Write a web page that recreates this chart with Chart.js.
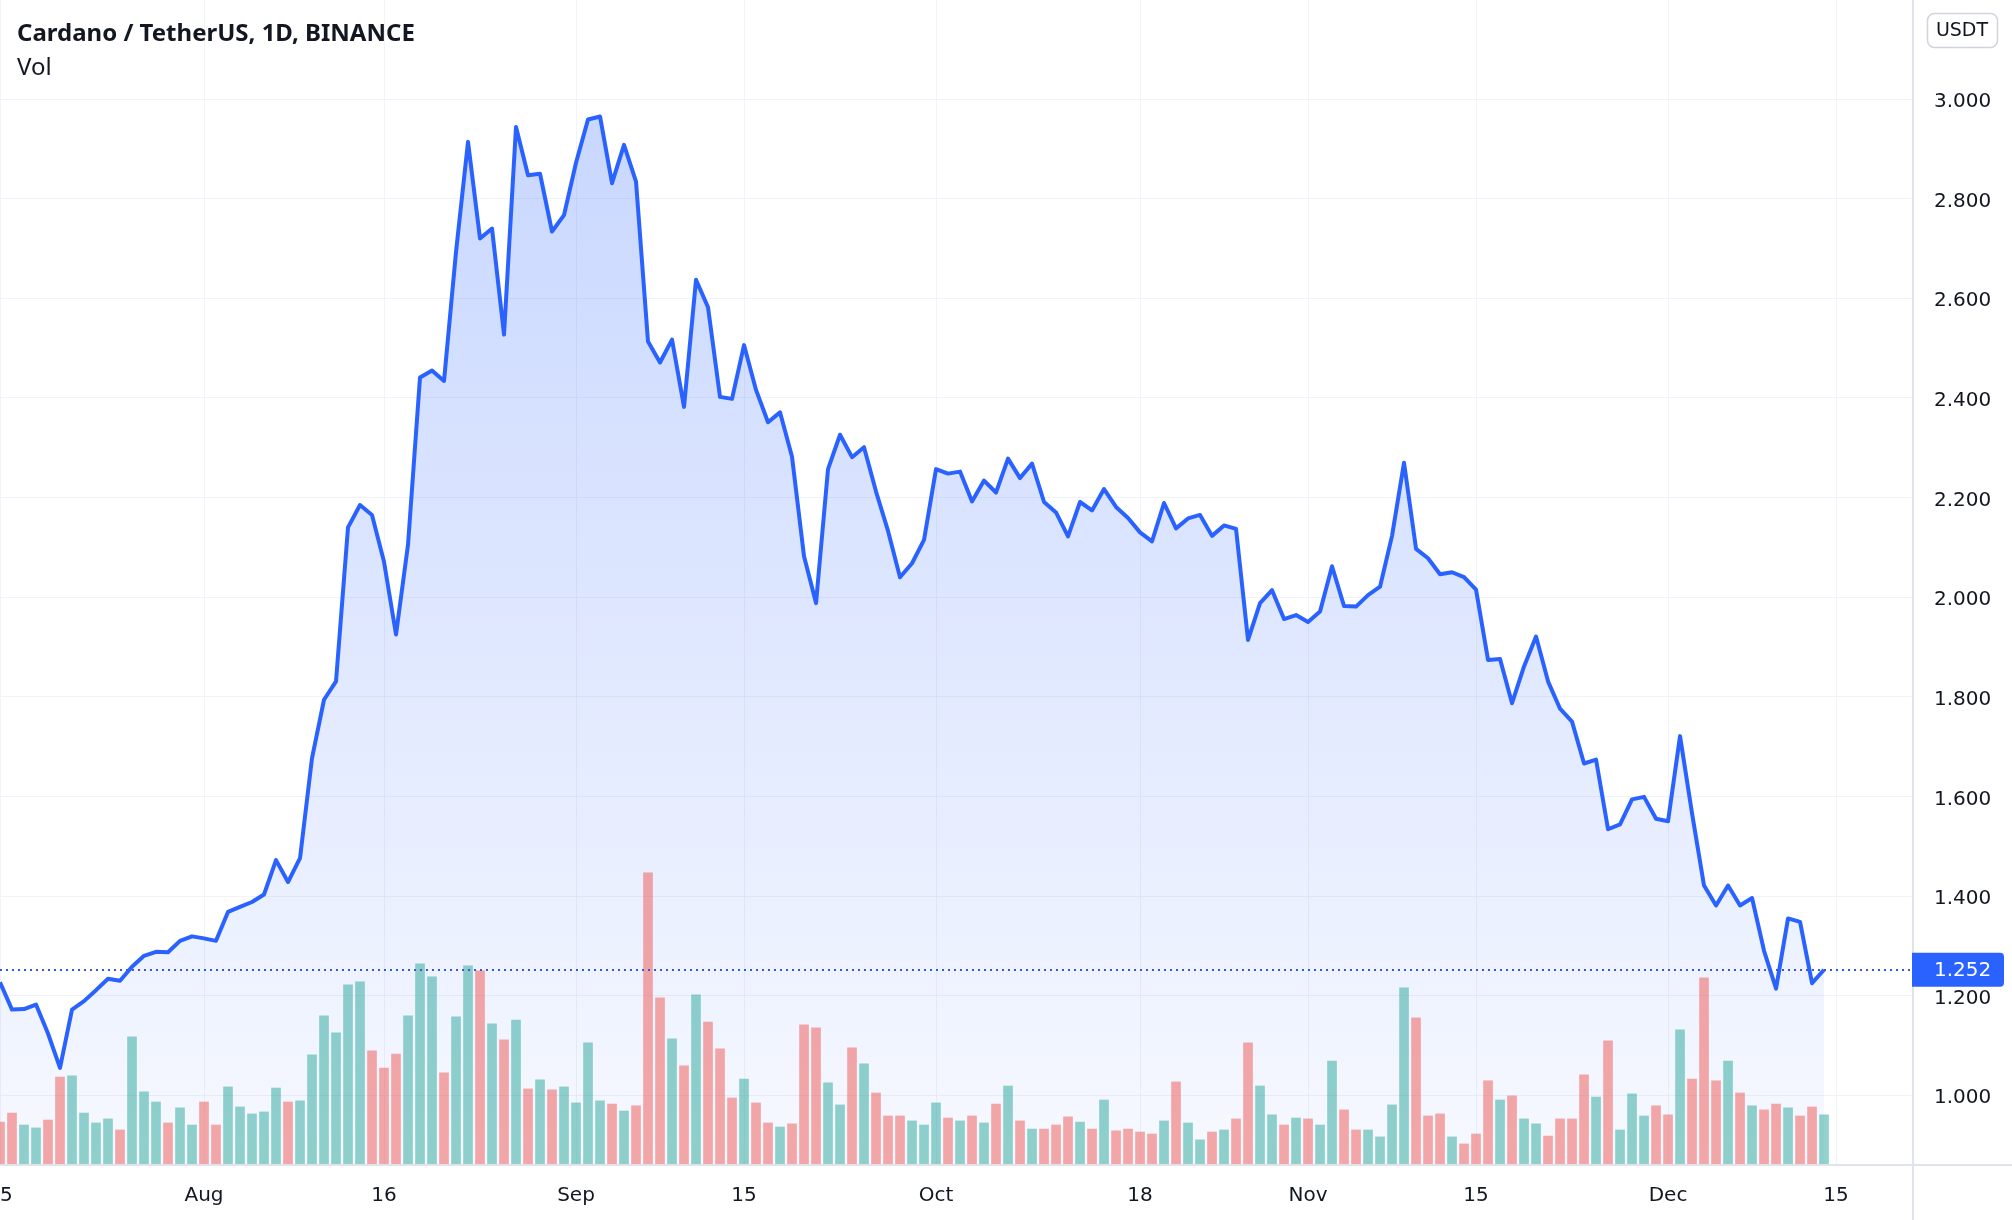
<!DOCTYPE html>
<html>
<head>
<meta charset="utf-8">
<script src="https://cdn.jsdelivr.net/npm/chart.js@4.4.1/dist/chart.umd.min.js"></script>
<style>
  html, body { margin: 0; padding: 0; background: #fff; }
  canvas { display: block; }
</style>
</head>
<body>
<canvas id="adaChart" width="2012" height="1220"></canvas>
<script>
// ADA/USDT daily closes, first point = 15 Jul 2021 (x is the day index)
const closes = [
  1.227, 1.172, 1.173, 1.182, 1.124, 1.055, 1.172, 1.189, 1.211, 1.234,
  1.230, 1.258, 1.280, 1.288, 1.287, 1.310, 1.319, 1.315, 1.310, 1.368,
  1.378, 1.388, 1.403, 1.472, 1.428, 1.476, 1.677, 1.794, 1.831, 2.140,
  2.185, 2.165, 2.071, 1.925, 2.105, 2.441, 2.455, 2.434, 2.693, 2.914,
  2.720, 2.740, 2.527, 2.944, 2.847, 2.850, 2.734, 2.767, 2.872, 2.959,
  2.965, 2.831, 2.908, 2.834, 2.513, 2.471, 2.517, 2.382, 2.637, 2.582,
  2.402, 2.398, 2.506, 2.416, 2.351, 2.371, 2.282, 2.082, 1.988, 2.257,
  2.326, 2.281, 2.301, 2.212, 2.133, 2.040, 2.068, 2.115, 2.257, 2.248,
  2.252, 2.192, 2.234, 2.210, 2.278, 2.239, 2.268, 2.191, 2.170, 2.122,
  2.191, 2.174, 2.217, 2.181, 2.159, 2.130, 2.112, 2.189, 2.138, 2.158,
  2.165, 2.123, 2.144, 2.137, 1.914, 1.988, 2.014, 1.956, 1.964, 1.950,
  1.971, 2.062, 1.982, 1.981, 2.004, 2.021, 2.123, 2.270, 2.097, 2.078,
  2.046, 2.050, 2.040, 2.015, 1.874, 1.876, 1.787, 1.861, 1.921, 1.831,
  1.776, 1.750, 1.666, 1.674, 1.534, 1.544, 1.594, 1.599, 1.555, 1.550,
  1.721, 1.566, 1.421, 1.381, 1.421, 1.381, 1.396, 1.290, 1.214, 1.355,
  1.348, 1.225, 1.252
];

// daily volume, millions of ADA
const volumes = [
  144, 175, 134, 124, 151, 299, 303, 175, 141, 155,
  117, 437, 248, 213, 141, 193, 134, 213, 134, 265,
  196, 172, 179, 261, 213, 217, 375, 509, 451, 616,
  626, 389, 330, 378, 509, 688, 643, 313, 506, 681,
  664, 482, 427, 495, 258, 289, 255, 265, 210, 416,
  217, 206, 182, 200, 1001, 571, 430, 337, 581, 488,
  396, 227, 292, 210, 141, 127, 138, 478, 468, 279,
  203, 399, 344, 244, 165, 165, 148, 134, 210, 158,
  148, 165, 141, 206, 268, 148, 120, 120, 134, 162,
  144, 120, 220, 114, 120, 110, 103, 148, 282, 141,
  83, 110, 117, 155, 416, 268, 169, 134, 158, 155,
  134, 354, 186, 117, 117, 93, 203, 605, 502, 165,
  172, 93, 69, 103, 286, 220, 234, 155, 138, 96,
  155, 155, 306, 230, 423, 117, 241, 165, 200, 169,
  461, 292, 640, 286, 354, 244, 200, 186, 206, 193,
  165, 196, 169
];

const prevClose = 1.25;   // close of 14 Jul, colours the first volume bar
const lastPrice = 1.252;

const tickDays = [0, 17, 32, 48, 62, 78, 95, 109, 123, 139, 153];
const tickLabels = ['15', 'Aug', '16', 'Sep', '15', 'Oct', '18', 'Nov', '15', 'Dec', '15'];
const priceTicks = [1.0, 1.2, 1.4, 1.6, 1.8, 2.0, 2.2, 2.4, 2.6, 2.8, 3.0];

const BLUE = '#2962ff';
const GRID = '#f0f3fa';
const TEXT = '#131722';
const AXIS_FONT = { family: 'DejaVu Sans', size: 20 };

const volColors = closes.map((c, i) => {
  const before = i ? closes[i - 1] : prevClose;
  return c >= before ? 'rgba(38,166,154,0.5)' : 'rgba(239,83,80,0.5)';
});

// header, separators, last price line and labels
const tvDecor = {
  id: 'tvDecor',
  beforeDraw(chart) {
    const c = chart.ctx;
    c.save();
    c.fillStyle = '#fff';
    c.fillRect(0, 0, chart.width, chart.height);
    c.restore();
  },
  afterDraw(chart) {
    const c = chart.ctx;
    const area = chart.chartArea;
    const yPx = chart.scales.y.getPixelForValue(lastPrice);
    c.save();

    // pane separators
    c.strokeStyle = '#e0e3eb';
    c.lineWidth = 2;
    c.beginPath();
    c.moveTo(area.right + 1, 0);
    c.lineTo(area.right + 1, chart.height);
    c.moveTo(0, area.bottom + 1);
    c.lineTo(chart.width, area.bottom + 1);
    c.stroke();

    // last price dotted line
    c.strokeStyle = '#3a56d8';
    c.lineWidth = 2;
    c.setLineDash([2, 4]);
    c.beginPath();
    c.moveTo(area.left, Math.round(yPx));
    c.lineTo(area.right, Math.round(yPx));
    c.stroke();
    c.setLineDash([]);

    // last price label
    c.fillStyle = BLUE;
    c.beginPath();
    c.roundRect(area.right, yPx - 17, 92, 34, [0, 4, 4, 0]);
    c.fill();
    c.fillStyle = '#fff';
    c.font = '20px "DejaVu Sans"';
    c.textBaseline = 'middle';
    c.textAlign = 'left';
    c.fillText(lastPrice.toFixed(3), area.right + 22, yPx + 1);

    // currency badge
    c.strokeStyle = '#d1d4dc';
    c.lineWidth = 1.5;
    c.fillStyle = '#fff';
    c.beginPath();
    c.roundRect(1927.5, 13.5, 70, 34, 7);
    c.fill();
    c.stroke();
    c.fillStyle = TEXT;
    c.textAlign = 'center';
    c.font = '19px "DejaVu Sans"';
    c.fillText('USDT', 1962, 31);

    // title
    c.textAlign = 'left';
    c.textBaseline = 'alphabetic';
    c.font = 'bold 24px "Noto Sans"';
    c.fillText('Cardano / TetherUS, 1D, BINANCE', 17, 41);
    c.font = '24px "Noto Sans"';
    c.fillText('Vol', 17, 75);
    c.restore();
  }
};

const ctx = document.getElementById('adaChart').getContext('2d');
const chart = new Chart(ctx, {
  data: {
    datasets: [
      {
        type: 'line',
        data: closes.map((c, i) => ({ x: i, y: c })),
        yAxisID: 'y',
        borderColor: BLUE,
        borderWidth: 4,
        borderJoinStyle: 'round',
        pointRadius: 0,
        tension: 0,
        fill: 'start',
        backgroundColor: function (context) {
          const area = context.chart.chartArea;
          if (!area) return 'rgba(41,98,255,0.15)';
          const g = context.chart.ctx.createLinearGradient(0, area.top, 0, area.bottom);
          g.addColorStop(0, 'rgba(41,98,255,0.28)');
          g.addColorStop(1, 'rgba(41,98,255,0.04)');
          return g;
        },
        order: 1
      },
      {
        type: 'bar',
        data: volumes.map((v, i) => ({ x: i, y: v })),
        yAxisID: 'vol',
        backgroundColor: volColors,
        barThickness: 9,
        order: 2
      }
    ]
  },
  options: {
    responsive: false,
    devicePixelRatio: 1,
    animation: false,
    events: [],
    layout: { padding: 0, autoPadding: false },
    plugins: {
      legend: { display: false },
      tooltip: { enabled: false },
      filler: { drawTime: 'beforeDatasetsDraw' }
    },
    scales: {
      x: {
        type: 'linear',
        offset: false,
        min: 0,
        max: 159.33,
        afterBuildTicks: s => { s.ticks = tickDays.map(d => ({ value: d })); },
        afterFit: s => { s.height = 56; s.paddingLeft = 0; s.paddingRight = 0; },
        grid: { color: GRID, drawTicks: false, offset: false },
        border: { display: false },
        ticks: {
          autoSkip: false,
          maxRotation: 0,
          padding: 20,
          color: TEXT,
          font: AXIS_FONT,
          callback: (v, i) => tickLabels[i]
        }
      },
      y: {
        position: 'right',
        min: 0.862,
        max: 3.1988,
        afterBuildTicks: s => { s.ticks = priceTicks.map(v => ({ value: v })); },
        afterFit: s => { s.width = 100; s.paddingTop = 0; s.paddingBottom = 0; },
        grid: { color: GRID, drawTicks: false },
        border: { display: false },
        ticks: {
          padding: 22,
          labelOffset: 3,
          color: TEXT,
          font: AXIS_FONT,
          callback: v => v.toFixed(3)
        }
      },
      vol: {
        display: false,
        min: 0,
        max: 4000
      }
    }
  },
  plugins: [tvDecor]
});
</script>
</body>
</html>
